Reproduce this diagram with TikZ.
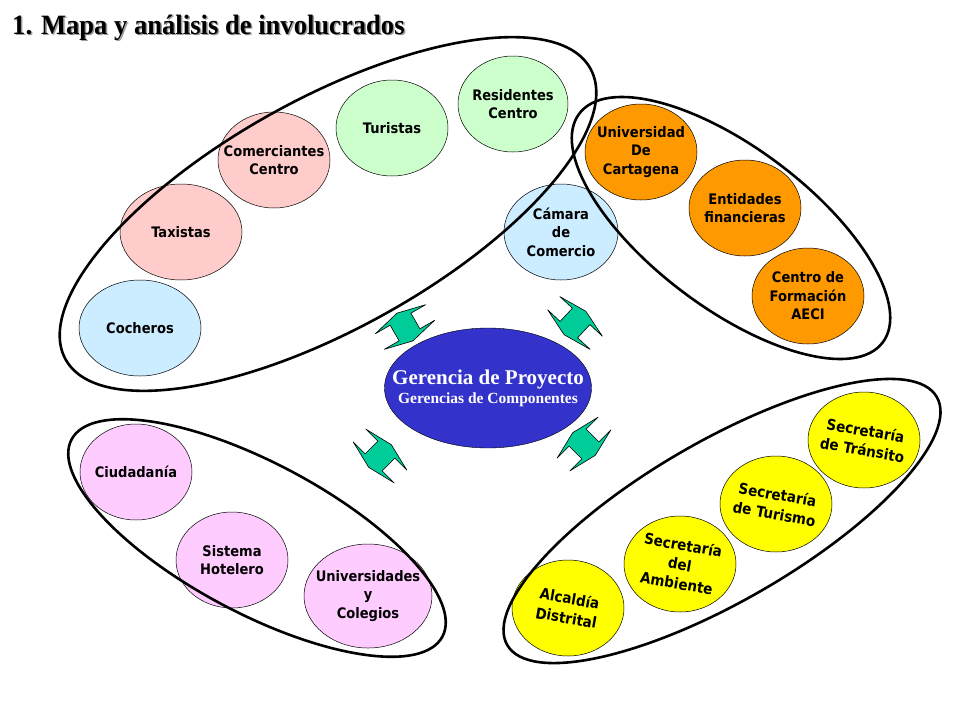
\documentclass[tikz,border=0pt]{standalone}
\usepackage{fontspec}
\setmainfont{Liberation Serif}
\newfontfamily\rotulo[FakeStretch=0.9]{DejaVu Sans}
\newfontfamily\titular[FakeStretch=0.95]{Liberation Serif}
\usepackage{tikz}
\usetikzlibrary{shapes.geometric}
\definecolor{celeste}{HTML}{CCECFF}
\definecolor{rosa}{HTML}{FFCCCC}
\definecolor{verdeclaro}{HTML}{CCFFCC}
\definecolor{naranja}{HTML}{FF9900}
\definecolor{lila}{HTML}{FFCCFF}
\definecolor{amarillo}{HTML}{FFFF00}
\definecolor{azul}{HTML}{3333CC}
\definecolor{verdeflecha}{HTML}{00CC99}
\tikzset{every label/.style={align=center, inner sep=0pt,
      font=\rotulo\bfseries\fontsize{14.5}{18.5}\selectfont}}
\tikzset{actor/.style={ellipse, draw, line width=0.5pt, inner sep=0pt,
      minimum width=112pt, minimum height=96pt}}
\tikzset{oficina/.style={actor, fill=amarillo}}
\tikzset{girado/.style={rotate=-10, font=\rotulo\bfseries\fontsize{15}{19.5}\selectfont}}
\tikzset{grupo/.style={ellipse, draw, line width=2.6pt, inner sep=0pt}}
\tikzset{flecha/.pic={
    \draw[fill=verdeflecha, line width=0.6pt, line join=round]
      (-16,0) -- (-9,29) -- (-9,12) -- (9,12) -- (9,29) -- (16,0)
      -- (9,-29) -- (9,-12) -- (-9,-12) -- (-9,-29) -- cycle;}}

\begin{document}
\begin{tikzpicture}[x=1pt,y=-1pt]
    \useasboundingbox[fill=white] (0,0) rectangle (960,720);
    \node[anchor=base west, text=black!40, font=\titular\bfseries\fontsize{28}{30}\selectfont, inner sep=0pt] (sombra) at (13.5,35.5) {1. Mapa y análisis de involucrados};
    \node[anchor=base west, font=\titular\bfseries\fontsize{28}{30}\selectfont, inner sep=0pt] (titulo) at (12,34) {1. Mapa y análisis de involucrados};

    \node[actor, fill=celeste, minimum width=122pt, label=center:Cocheros] (cocheros) at (140,328) {};
    \node[actor, fill=rosa, minimum width=122pt, label=center:Taxistas] (taxistas) at (181,232) {};
    \node[actor, fill=rosa, label=center:{Comerciantes\\Centro}] (comerciantes) at (274,160) {};
    \node[actor, fill=verdeclaro, label=center:Turistas] (turistas) at (392,128) {};
    \node[actor, fill=verdeclaro, minimum width=110pt, label=center:{Residentes\\Centro}] (residentes) at (513,104) {};
    \node[actor, fill=celeste, minimum width=114pt, label=center:{Cámara\\de\\Comercio}] (camara) at (561,232) {};

    \node[actor, fill=naranja, label=center:{Universidad\\De\\Cartagena}] (udec) at (641,152) {};
    \node[actor, fill=naranja, label=center:{Entidades\\financieras}] (entidades) at (745,208) {};
    \node[actor, fill=naranja, label=center:{Centro de\\Formación\\AECI}] (formacion) at (808,296) {};

    \node[actor, fill=lila, label=center:Ciudadanía] (ciudadania) at (136,472) {};
    \node[actor, fill=lila, label=center:{Sistema\\Hotelero}] (hotelero) at (232,560) {};
    \node[actor, fill=lila, minimum width=128pt, minimum height=104pt, label=center:{Universidades\\y\\Colegios}] (universidades) at (368,596) {};

    \node[oficina, label={[girado]center:{Alcaldía\\Distrital}}] (alcaldia) at (568,608) {};
    \node[oficina, label={[girado]center:{Secretaría\\del\\Ambiente}}] (ambiente) at (680,564) {};
    \node[oficina, label={[girado]center:{Secretaría\\de Turismo}}] (turismo) at (776,504) {};
    \node[oficina, label={[girado]center:{Secretaría\\de Tránsito}}] (transito) at (864,440) {};

    \node[grupo, minimum width=600pt, minimum height=230pt, rotate=29] (grupoCentro) at (328,214) {};
    \node[grupo, minimum width=380pt, minimum height=160pt, rotate=-37] (grupoFormacion) at (731,228) {};
    \node[grupo, minimum width=420pt, minimum height=150pt, rotate=-28] (grupoCiudad) at (257,538) {};
    \node[grupo, minimum width=496pt, minimum height=160pt, rotate=30] (grupoDistrito) at (722,521) {};

    \node[ellipse, draw, fill=azul, inner sep=0pt, minimum width=207pt, minimum height=120pt,
      label={[text=white, font=\bfseries\fontsize{21}{20}\selectfont]center:{Gerencia de Proyecto\\[-1pt]{\fontsize{15.5}{20}\selectfont Gerencias de Componentes}}}] (gerencia) at (488,388) {};

    \pic[rotate=120] at (405,327) {flecha};
    \pic[rotate=47] at (575,323) {flecha};
    \pic[rotate=45] at (380,456) {flecha};
    \pic[rotate=135] at (584,444) {flecha};
\end{tikzpicture}
\end{document}
